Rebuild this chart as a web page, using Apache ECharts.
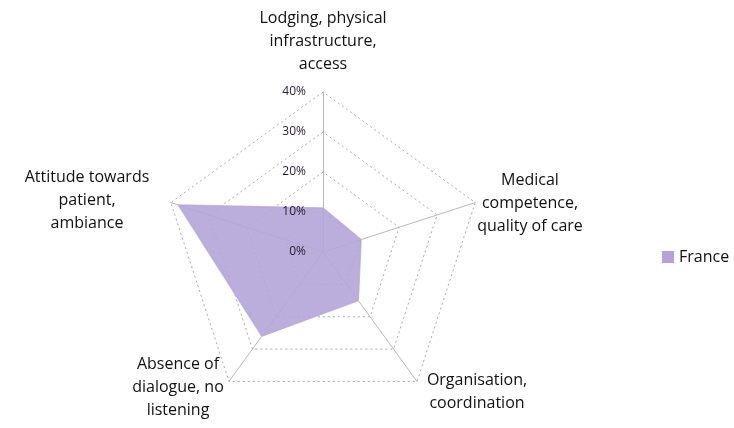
<!DOCTYPE html>
<html>
<head>
<meta charset="utf-8">
<script src="https://cdn.jsdelivr.net/npm/echarts@6/dist/echarts.min.js"></script>
<style>
html,body{margin:0;padding:0;background:#fff;}
#chart{width:734px;height:428px;}
</style>
</head>
<body>
<div id="chart"></div>
<script>
// Data (indicator order listed counter-clockwise from the top, as ECharts places them)
const categories = [
  "Lodging, physical\ninfrastructure,\naccess",
  "Attitude towards\npatient,\nambiance",
  "Absence of\ndialogue, no\nlistening",
  "Organisation,\ncoordination",
  "Medical\ncompetence,\nquality of care"
];
const franceValues = [11, 38, 26, 15, 10];
const tickValues = [0, 10, 20, 30, 40];
const seriesName = "France";

const CX = 323, CY = 252, R = 160, MAXV = 40;
const FONT = "'Open Sans', sans-serif";

// label anchor points (layout only)
const labelPos = [
  [323, 41],
  [87, 200],
  [178, 387],
  [477, 392],
  [530, 203]
];

const chart = echarts.init(document.getElementById('chart'));
chart.setOption({
  animation: false,
  backgroundColor: '#ffffff',
  textStyle: { fontFamily: FONT },
  legend: {
    data: [seriesName],
    left: 657,
    top: 244,
    itemWidth: 12,
    itemHeight: 12,
    itemGap: 6,
    icon: 'rect',
    textStyle: { fontSize: 16, color: '#111', fontFamily: FONT }
  },
  radar: {
    center: [CX, CY],
    radius: R,
    startAngle: 90,
    splitNumber: tickValues.length - 1,
    shape: 'polygon',
    indicator: categories.map(c => ({ name: c, min: 0, max: MAXV })),
    axisName: { show: false },
    axisLine: { lineStyle: { color: '#B8B8B8', width: 1 } },
    splitLine: { lineStyle: { color: '#AAAAAA', width: 1, type: [2, 3] } },
    splitArea: { show: false },
    axisLabel: { show: false }
  },
  grid: { left: CX, top: CY - R, width: 1, height: R, containLabel: false },
  xAxis: { type: 'value', show: false },
  yAxis: {
    type: 'value', min: 0, max: MAXV, interval: 10, z: 10,
    axisLine: { show: false }, axisTick: { show: false }, splitLine: { show: false },
    axisLabel: { margin: 17, fontSize: 12, color: '#221c30', fontFamily: FONT,
      formatter: v => tickValues.includes(v) ? v + '%' : '' }
  },
  series: [{
    type: 'radar',
    name: seriesName,
    symbol: 'none',
    data: [{ value: franceValues, name: seriesName }],
    itemStyle: { color: '#B3A3D6' },
    lineStyle: { color: '#C6BBE3', width: 1.5 },
    areaStyle: { color: '#B4A4D8', opacity: 0.9 }
  }],
  graphic: categories.map((c, i) => ({
    type: 'text',
    x: labelPos[i][0],
    y: labelPos[i][1],
    style: {
      text: c,
      align: 'center',
      verticalAlign: 'middle',
      font: "16px 'Open Sans', sans-serif",
      lineHeight: 23,
      fill: '#111111'
    }
  }))
});
</script>
</body>
</html>
